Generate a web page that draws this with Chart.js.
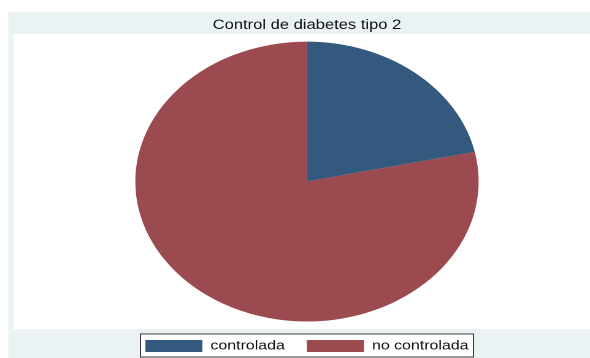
<!DOCTYPE html>
<html>
<head>
<meta charset="utf-8">
<script src="https://cdn.jsdelivr.net/npm/chart.js@4/dist/chart.umd.min.js"></script>
<style>
  html, body { margin: 0; padding: 0; background: #ffffff; overflow: hidden; }
  /* the graph is laid out on a narrower canvas and widened to the page width */
  #wrap { width: 481px; height: 358px; transform: scaleX(1.22661); transform-origin: 0 0; }
</style>
</head>
<body>
<div id="wrap"><canvas id="c" width="481" height="358"></canvas></div>
<script>
const categories = ['controlada', 'no controlada'];
const shares = [21.6, 78.4];
const sliceColors = ['#33597e', '#9b4a50'];
const titleText = 'Control de diabetes tipo 2';

const FONT = 'Liberation Sans, Arial, Helvetica, sans-serif';

// graph region (light frame), white plot region and the framed legend key
const framePlugin = {
  id: 'frame',
  beforeDraw(chart) {
    const ctx = chart.ctx;
    const w = chart.width;
    ctx.save();
    ctx.fillStyle = '#eaf2f3';
    ctx.fillRect(6.8, 12, w - 6.8, chart.height - 12);
    ctx.fillStyle = '#ffffff';
    ctx.fillRect(10.9, 34, w - 10.9, 295);

    const hb = chart.legend && chart.legend.legendHitBoxes;
    if (hb && hb.length) {
      const first = hb[0];
      const last = hb[hb.length - 1];
      const x0 = first.left - 4;
      const x1 = last.left + last.width + 4;
      const y0 = first.top - 5.5;
      ctx.fillStyle = '#ffffff';
      ctx.fillRect(x0, y0, x1 - x0, 23);
      ctx.strokeStyle = '#3a3a3a';
      ctx.lineWidth = 1;
      ctx.strokeRect(x0, y0, x1 - x0, 23);
    }
    ctx.restore();
  }
};

new Chart(document.getElementById('c'), {
  type: 'pie',
  data: {
    labels: categories,
    datasets: [{
      data: shares,
      backgroundColor: sliceColors,
      borderWidth: 0,
      hoverOffset: 0
    }]
  },
  options: {
    responsive: false,
    devicePixelRatio: 2,
    animation: false,
    layout: { padding: { left: 19.5, right: 0, top: 0, bottom: -4.5 } },
    plugins: {
      title: {
        display: true,
        text: titleText,
        color: '#111111',
        font: { family: FONT, size: 13.5, weight: 'normal' },
        padding: { top: 17, bottom: 8.4 }
      },
      legend: {
        position: 'bottom',
        labels: {
          boxWidth: 46.5,
          boxHeight: 12,
          padding: 18,
          color: '#111111',
          font: { family: FONT, size: 13 }
        }
      },
      tooltip: { enabled: false }
    }
  },
  plugins: [framePlugin]
});
</script>
</body>
</html>
